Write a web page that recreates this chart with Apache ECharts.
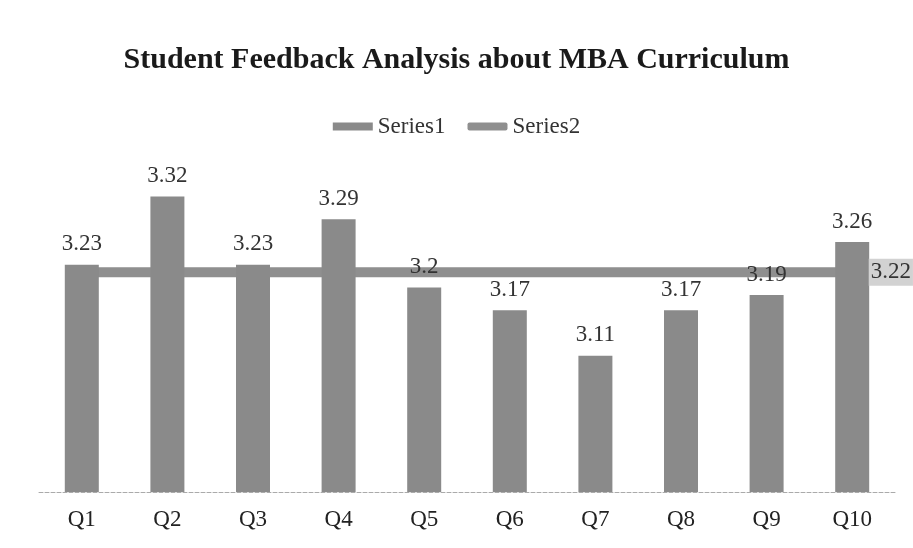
<!DOCTYPE html>
<html>
<head>
<meta charset="utf-8">
<script src="https://cdn.jsdelivr.net/npm/echarts@6/dist/echarts.min.js"></script>
<style>
  html, body { margin: 0; padding: 0; background: #fff; }
  #chart { width: 913px; height: 548px; }
</style>
</head>
<body>
<div id="chart"></div>
<script>
// data
var categories = ["Q1", "Q2", "Q3", "Q4", "Q5", "Q6", "Q7", "Q8", "Q9", "Q10"];
var series1Values = [3.23, 3.32, 3.23, 3.29, 3.2, 3.17, 3.11, 3.17, 3.19, 3.26];
var series2Values = [3.22, 3.22, 3.22, 3.22, 3.22, 3.22, 3.22, 3.22, 3.22, 3.22];

var serif = "Liberation Serif, DejaVu Serif, serif";
var last = categories.length - 1;

var chart = echarts.init(document.getElementById("chart"));

chart.setOption({
  animation: false,
  backgroundColor: "#fff",
  title: {
    text: "Student Feedback Analysis about MBA Curriculum",
    left: "center",
    top: 40,
    textStyle: {
      fontFamily: serif,
      fontWeight: "bold",
      fontSize: 30,
      color: "#1a1a1a"
    }
  },
  legend: {
    data: [
      { name: "Series1", icon: "rect" },
      { name: "Series2", icon: "roundRect" }
    ],
    top: 110,
    left: "center",
    itemWidth: 40,
    itemHeight: 8,
    itemGap: 22,
    textStyle: { fontFamily: serif, fontSize: 23, color: "#333" }
  },
  grid: { left: 39, right: 18, top: 136, bottom: 56 },
  xAxis: {
    type: "category",
    data: categories,
    axisTick: { show: false },
    axisLine: { lineStyle: { color: "#aaa", type: "dashed", width: 1 } },
    axisLabel: { fontFamily: serif, fontSize: 23, color: "#222", margin: 16 }
  },
  yAxis: {
    type: "value",
    min: 2.93,
    max: 3.4,
    show: false,
    splitLine: { show: false }
  },
  series: [
    {
      name: "Series1",
      type: "bar",
      data: series1Values,
      barWidth: 34,
      z: 3,
      itemStyle: { color: "#8a8a8a" },
      label: {
        show: true,
        position: "top",
        distance: 9,
        fontFamily: serif,
        fontSize: 23,
        color: "#333"
      }
    },
    {
      name: "Series2",
      type: "line",
      data: series2Values,
      symbol: "none",
      z: 2,
      lineStyle: { color: "#8f8f8f", width: 10 },
      itemStyle: { color: "#8f8f8f" },
      // end label as a mark point so it sits above the last bar
      markPoint: {
        z: 10,
        symbol: "rect",
        symbolSize: 1,
        itemStyle: { color: "transparent" },
        label: {
          show: true,
          position: "right",
          distance: 16,
          formatter: function (p) { return p.value; },
          fontFamily: serif,
          fontSize: 23,
          color: "#333",
          backgroundColor: "#d2d2d2",
          padding: [2, 2]
        },
        data: [{ coord: [categories[last], series2Values[last]], value: series2Values[last] }]
      }
    }
  ]
});
</script>
</body>
</html>
